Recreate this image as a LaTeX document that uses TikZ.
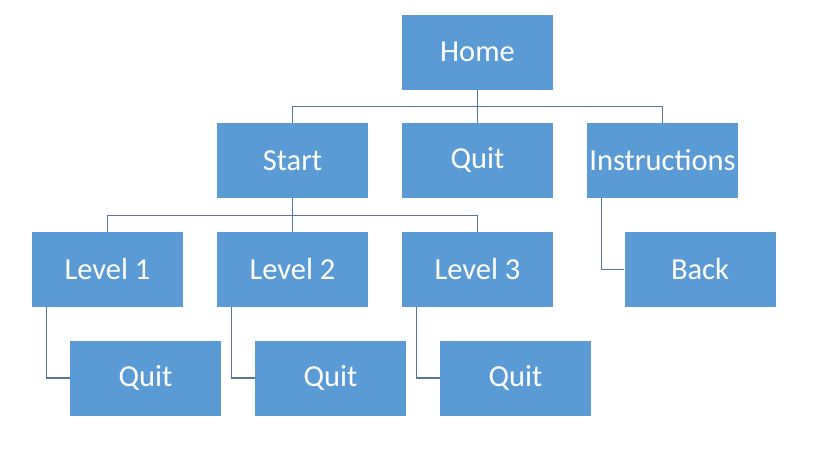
\documentclass[tikz,border=0pt]{standalone}
\usepackage{fontspec}
\setmainfont{Carlito}
\usepackage{xcolor}
\usepackage{tikz}
\usetikzlibrary{positioning,calc}
\definecolor{boxblue}{RGB}{91,155,213}
\definecolor{linkblue}{RGB}{84,118,160}

\begin{document}
\begin{tikzpicture}[x=1pt, y=1pt,
  box/.style={fill=boxblue, minimum width=151pt, minimum height=75pt, inner sep=0pt,
    text=white, font=\fontsize{30.5}{33}\selectfont},
  link/.style={draw=linkblue, line width=1.1pt}]
  \useasboundingbox (0,0) rectangle (819,-464);
  % Row 0: home screen
  \node[box] (home) at (477.5, -52) {Home};
  % Row 1: menu
  \node[box] (start) at (292.5, -160.5) {Start};
  \node[box] (quit)  at (477.5, -160.5) {Quit};
  \node[box] (instr) at (662.5, -160.5) {Instructions};
  % Row 2: levels and back
  \node[box] (lvla) at (107.5, -269.5) {Level 1};
  \node[box] (lvlb) at (292.5, -269.5) {Level 2};
  \node[box] (lvlc) at (477.5, -269.5) {Level 3};
  \node[box] (back) at (700, -269.5) {Back};
  % Row 3: quit from each level
  \node[box] (quita) at (145.5, -378) {Quit};
  \node[box] (quitb) at (330.5, -378) {Quit};
  \node[box] (quitc) at (515.5, -378) {Quit};
  % Home to menu
  \coordinate (busa) at ($(home.south)+(0,-17)$);
  \draw[link] (home.south) -- (busa);
  \foreach \n in {start,quit,instr} {
    \draw[link] (busa) -| (\n.north);
  }
  % Start to levels
  \coordinate (busb) at ($(start.south)+(0,-17)$);
  \draw[link] (start.south) -- (busb);
  \foreach \n in {lvla,lvlb,lvlc} {
    \draw[link] (busb) -| (\n.north);
  }
  % Side links
  \foreach \p/\c in {lvla/quita,lvlb/quitb,lvlc/quitc,instr/back} {
    \draw[link] ($(\p.south west)+(15,0)$) |- (\c.west);
  }
\end{tikzpicture}
\end{document}
